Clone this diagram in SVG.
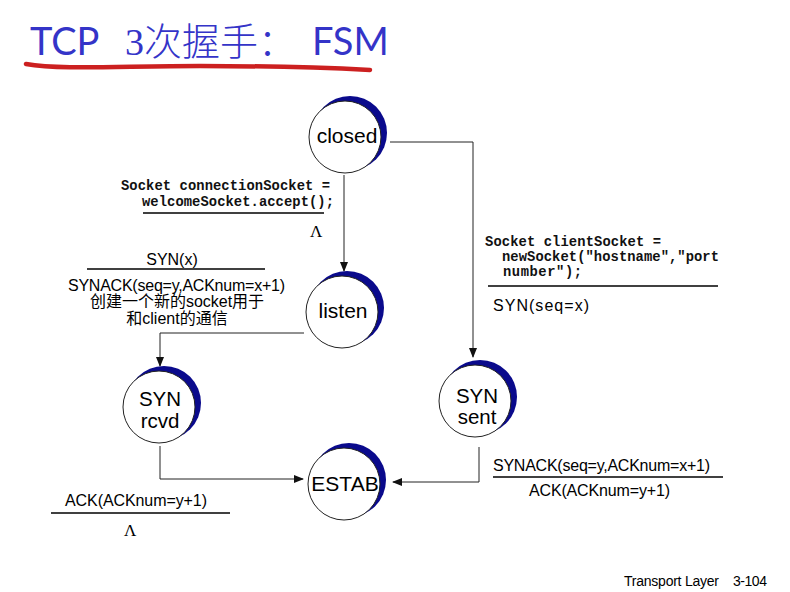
<svg xmlns="http://www.w3.org/2000/svg" width="790" height="592" viewBox="0 0 790 592">
<defs>
<marker id="ah" markerWidth="10" markerHeight="8" refX="9" refY="4" orient="auto" markerUnits="userSpaceOnUse">
<path d="M0,0 L10,4 L0,8 z" fill="#111"/>
</marker>
<g id="state">
<circle cx="5" cy="-4" r="37" fill="#0a0a8c"/>
<circle cx="0" cy="0" r="36" fill="#fff" stroke="#222" stroke-width="1"/>
</g>
</defs>
<style>
.node{font-family:"Liberation Sans",Arial,sans-serif;font-size:21px;fill:#000;text-anchor:middle}
.node2{font-family:"Liberation Sans",Arial,sans-serif;font-size:20.5px;fill:#000;text-anchor:middle}
.lbl{font-family:"Liberation Sans","Noto Sans CJK SC",sans-serif;font-size:16px;fill:#000}
.code{font-family:"Liberation Mono","Courier New",monospace;font-weight:bold;font-size:13.8px;fill:#111}
.lam{font-family:"Liberation Serif",serif;font-size:17px;fill:#000}
.conn{fill:none;stroke:#222;stroke-width:1}
.bar{stroke:#000;stroke-width:1.5}
.title{font-size:38px;fill:#3434c8}
.tl{font-family:Lato,"Liberation Sans",sans-serif;font-weight:400}
</style>
<rect width="790" height="592" fill="#fff"/>

<g id="title">
<text y="55" class="title"><tspan x="30" class="tl">TCP</tspan><tspan x="125" font-family="Liberation Serif,'Noto Sans CJK SC',serif">3</tspan><tspan font-family="'Noto Sans CJK SC',sans-serif" font-weight="300">次握手：</tspan><tspan x="312" class="tl">FSM</tspan></text>
<path d="M26,64 C60,70 120,66 200,66 C280,66 330,68 370,70" fill="none" stroke="#cc2020" stroke-width="4.5" stroke-linecap="round"/>
</g>

<g id="connectors">
<path class="conn" d="M344,175 V271" marker-end="url(#ah)"/>
<path class="conn" d="M390,142 H473 V357" marker-end="url(#ah)"/>
<path class="conn" d="M304,333 H160 V366" marker-end="url(#ah)"/>
<path class="conn" d="M160,446 V479 H303" marker-end="url(#ah)"/>
<path class="conn" d="M479,447 V482 H393" marker-end="url(#ah)"/>
</g>

<g id="node-closed"><use href="#state" x="345" y="137"/><text class="node" x="347" y="143">closed</text></g>
<g id="node-listen"><use href="#state" x="342" y="312"/><text class="node" x="343" y="318">listen</text></g>
<g id="node-synrcvd"><use href="#state" x="159" y="407"/><text class="node2" x="160" y="406">SYN</text><text class="node2" x="160" y="428">rcvd</text></g>
<g id="node-estab"><use href="#state" x="344" y="484"/><text class="node" x="345" y="491">ESTAB</text></g>
<g id="node-synsent"><use href="#state" x="475" y="401"/><text class="node2" x="477" y="403">SYN</text><text class="node2" x="477" y="424">sent</text></g>

<g id="label-closed-listen">
<text class="code" x="121" y="190" textLength="209">Socket connectionSocket =</text>
<text class="code" x="142" y="206" textLength="192">welcomeSocket.accept();</text>
<line class="bar" x1="143" y1="213" x2="324" y2="213"/>
<text class="lam" x="310" y="237">Λ</text>
</g>

<g id="label-listen-synrcvd">
<text class="lbl" x="172" y="265" text-anchor="middle" font-size="17">SYN(x)</text>
<line class="bar" x1="87" y1="269" x2="265" y2="269"/>
<text class="lbl" x="68" y="291" textLength="217">SYNACK(seq=y,ACKnum=x+1)</text>
<text class="lbl" x="177" y="307" text-anchor="middle">创建一个新的socket用于</text>
<text class="lbl" x="177" y="324" text-anchor="middle">和client的通信</text>
</g>

<g id="label-closed-synsent">
<text class="code" x="485" y="246" textLength="176">Socket clientSocket =</text>
<text class="code" x="502" y="261" textLength="217">newSocket("hostname","port</text>
<text class="code" x="503" y="276" textLength="79">number");</text>
<line class="bar" x1="488" y1="286" x2="718" y2="286"/>
<text class="lbl" x="493" y="311" font-size="17" textLength="96">SYN(seq=x)</text>
</g>

<g id="label-synrcvd-estab">
<text class="lbl" x="65" y="506" textLength="142">ACK(ACKnum=y+1)</text>
<line class="bar" x1="51" y1="513" x2="230" y2="513"/>
<text class="lam" x="124" y="536">Λ</text>
</g>

<g id="label-synsent-estab">
<text class="lbl" x="493" y="471" textLength="217">SYNACK(seq=y,ACKnum=x+1)</text>
<line class="bar" x1="493" y1="477" x2="723" y2="477"/>
<text class="lbl" x="529" y="496" textLength="141">ACK(ACKnum=y+1)</text>
</g>

<g id="footer">
<text x="624" y="586" font-family="Liberation Sans,sans-serif" font-size="14" fill="#000" textLength="95">Transport Layer</text>
<text x="733" y="586" font-family="Liberation Sans,sans-serif" font-size="14" fill="#000" textLength="34">3-104</text>
</g>
</svg>
